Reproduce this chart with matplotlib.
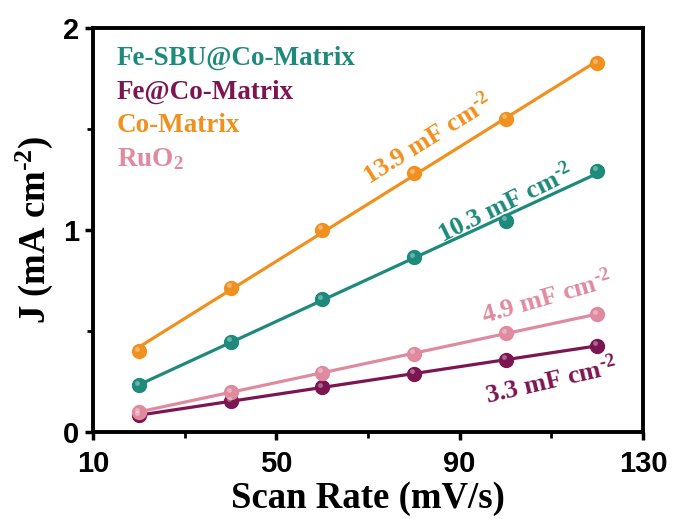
import numpy as np
import matplotlib
matplotlib.use("Agg")
import matplotlib.pyplot as plt

plt.rcParams['mathtext.fontset'] = 'custom'
plt.rcParams['mathtext.rm'] = 'Liberation Serif:bold'
plt.rcParams['mathtext.it'] = 'Liberation Serif:bold'
plt.rcParams['mathtext.bf'] = 'Liberation Serif:bold'
plt.rcParams['mathtext.default'] = 'rm'

scan_rate = [20, 40, 60, 80, 100, 120]
j_fesbu = [0.23, 0.446, 0.656, 0.865, 1.045, 1.294]
j_feco = [0.082, 0.151, 0.221, 0.287, 0.357, 0.426]
j_co = [0.40, 0.713, 1.0, 1.28, 1.55, 1.826]
j_ruo2 = [0.098, 0.197, 0.292, 0.387, 0.489, 0.582]

names = ["Fe-SBU@Co-Matrix", "Fe@Co-Matrix", "Co-Matrix", "RuO$_2$"]
cap_labels = ["10.3 mF cm$^{\\text{-}2}$", "3.3 mF cm$^{\\text{-}2}$",
              "13.9 mF cm$^{\\text{-}2}$", "4.9 mF cm$^{\\text{-}2}$"]
colors = ["#1d8a7b", "#7c1652", "#f0901e", "#e08aa0"]
series = [j_fesbu, j_feco, j_co, j_ruo2]

x_ticks = [10, 50, 90, 130]
y_ticks = [0, 1, 2]

fig = plt.figure(figsize=(6.74, 5.19), dpi=100)
ax = fig.add_axes([0.138, 0.168, 0.816, 0.778])

serif = ["Liberation Serif", "DejaVu Serif"]
sans = ["Liberation Sans", "DejaVu Sans"]

x = np.array(scan_rate, dtype=float)
for ys, c in zip(series, colors):
    y = np.array(ys)
    k, b = np.polyfit(x, y, 1)
    ax.plot(x, k * x + b, color=c, lw=2.3, zorder=2)
    ax.plot(x, y, 'o', ms=10, color=c, mec=c, zorder=3)
    ax.plot(x - 0.4, y + 0.012, 'o', ms=3.5, color='white', alpha=0.35, mec='none', zorder=4)

leg_y = [1.85, 1.68, 1.515, 1.35]
for name, c, yy in zip(names, colors, leg_y):
    ax.text(15.2, yy, name, color=c, fontsize=19.5, fontweight='bold', family=serif,
            va='center', ha='left')

fs_ann = 19
ax.text(83, 1.45, cap_labels[2], color=colors[2], fontsize=fs_ann, fontweight='bold',
        family=serif, rotation=32, ha='center', va='center', rotation_mode='anchor')
ax.text(100, 1.13, cap_labels[0], color=colors[0], fontsize=fs_ann, fontweight='bold',
        family=serif, rotation=26, ha='center', va='center', rotation_mode='anchor')
ax.text(109, 0.665, cap_labels[3], color=colors[3], fontsize=fs_ann, fontweight='bold',
        family=serif, rotation=16, ha='center', va='center', rotation_mode='anchor')
ax.text(110, 0.255, cap_labels[1], color=colors[1], fontsize=fs_ann, fontweight='bold',
        family=serif, rotation=13, ha='center', va='center', rotation_mode='anchor')

ax.set_xlim(10, 130)
ax.set_ylim(0, 2)
ax.set_xticks(x_ticks)
ax.set_yticks(y_ticks)
ax.set_xticks([30, 70, 110], minor=True)
ax.set_yticks([0.5, 1.5], minor=True)
ax.tick_params(which='major', direction='out', length=6, width=2.5)
ax.tick_params(axis='x', which='major', pad=7)
ax.tick_params(axis='y', which='major', pad=4)
ax.tick_params(which='minor', direction='out', length=4, width=2)
for lab in ax.get_xticklabels() + ax.get_yticklabels():
    lab.set_family(sans)
    lab.set_fontweight('bold')
    lab.set_fontsize(21)
for s in ax.spines.values():
    s.set_linewidth(2.8)

ax.set_xlabel("Scan Rate (mV/s)", fontsize=26.5, fontweight='bold', family=serif, labelpad=2)
ax.set_ylabel("J (mA cm$^{\\text{-}2}$)", fontsize=26.5, fontweight='bold', family=serif, labelpad=6)

fig.savefig("out.png", dpi=100)
